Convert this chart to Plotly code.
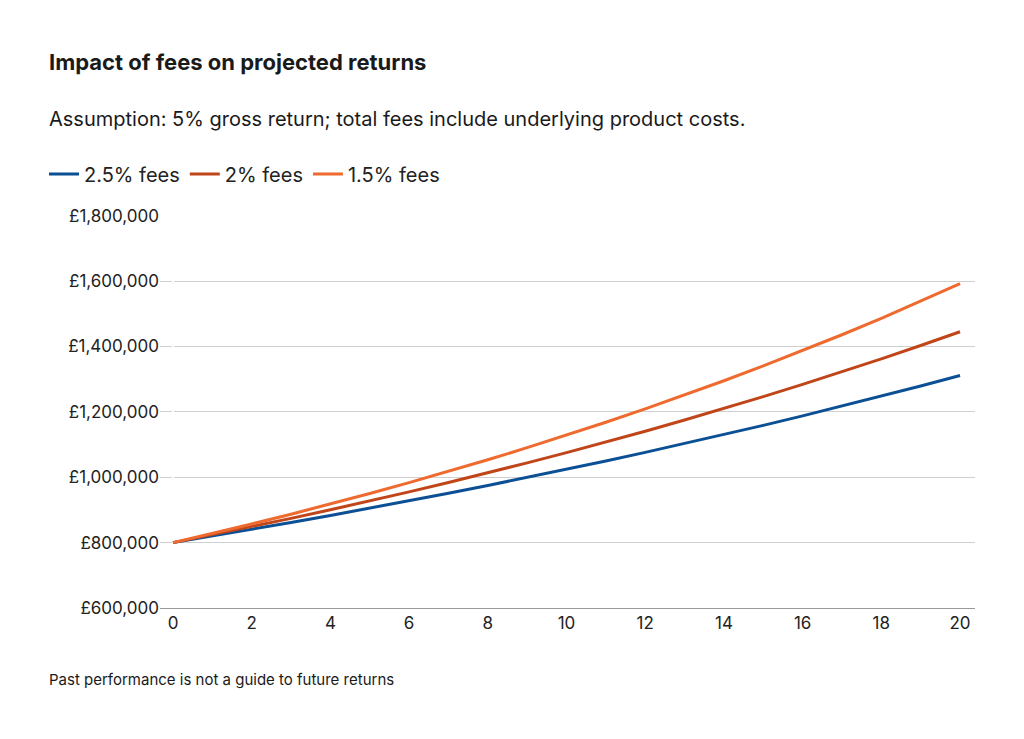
import plotly.graph_objects as go

years = list(range(21))
fees_25 = [800000, 820000, 840500, 861513, 883050, 905126, 927754, 950948, 974722, 999090, 1024067,
           1049669, 1075911, 1102808, 1130378, 1158638, 1187604, 1217294, 1247726, 1278919, 1310892]
fees_20 = [800000, 824000, 848720, 874182, 900407, 927419, 955242, 983899, 1013416, 1043819, 1075133,
           1107387, 1140609, 1174827, 1210072, 1246374, 1283765, 1322278, 1361947, 1402805, 1444889]
fees_15 = [800000, 828000, 856980, 886974, 918018, 950149, 983404, 1017823, 1053447, 1090318, 1128480,
           1167977, 1208856, 1251166, 1294957, 1340280, 1387190, 1435742, 1485993, 1538003, 1591833]
y_ticks = [600000, 800000, 1000000, 1200000, 1400000, 1600000, 1800000]
y_labels = ["£600,000", "£800,000", "£1,000,000", "£1,200,000", "£1,400,000", "£1,600,000", "£1,800,000"]

series = [("2.5% fees", fees_25, "#0b4f94"), ("2% fees", fees_20, "#c0461a"), ("1.5% fees", fees_15, "#ee6a2e")]

W, H = 1024, 739
L, R, T, B = 152, 57, 207, 139


def px_x(x):
    return (x - L) / (W - L - R)


def px_y(y):
    return 1 - (y - T) / (H - T - B)


def note(text, x, y, size):
    return dict(text=text, x=px_x(x - 8), y=px_y(y - 8), xref="paper", yref="paper",
                xanchor="left", yanchor="middle", showarrow=False,
                font=dict(size=size, color="#1a1a1a"))


fig = go.Figure()
for name, vals, col in series:
    fig.add_trace(go.Scatter(x=years, y=vals, name=name, mode="lines", line=dict(color=col, width=3)))

fig.update_layout(
    width=W, height=H, paper_bgcolor="white", plot_bgcolor="white",
    font=dict(family="Inter", size=17, color="#222"),
    margin=dict(l=L, r=R, t=T, b=B),
    legend=dict(orientation="h", x=px_x(36), xanchor="left", y=px_y(166), yanchor="middle",
                font=dict(size=20), itemwidth=30, traceorder="normal"),
    annotations=[
        note("<b>Impact of fees on projected returns</b>", 47, 62, 22),
        note("Assumption: 5% gross return; total fees include underlying product costs.", 47, 119, 20),
        note("Past performance is not a guide to future returns", 47, 679, 15),
    ],
)

fig.update_xaxes(range=[-0.33, 20.38], tickvals=list(range(0, 21, 2)), showgrid=False,
                 showline=True, linecolor="#999", ticks="", tickfont=dict(size=17))
fig.update_yaxes(range=[600000, 1802000], tickvals=y_ticks, ticktext=y_labels,
                 gridcolor="#d0d0d0", zeroline=False, tickfont=dict(size=17), ticksuffix=" ")

fig.write_html("out.html")
